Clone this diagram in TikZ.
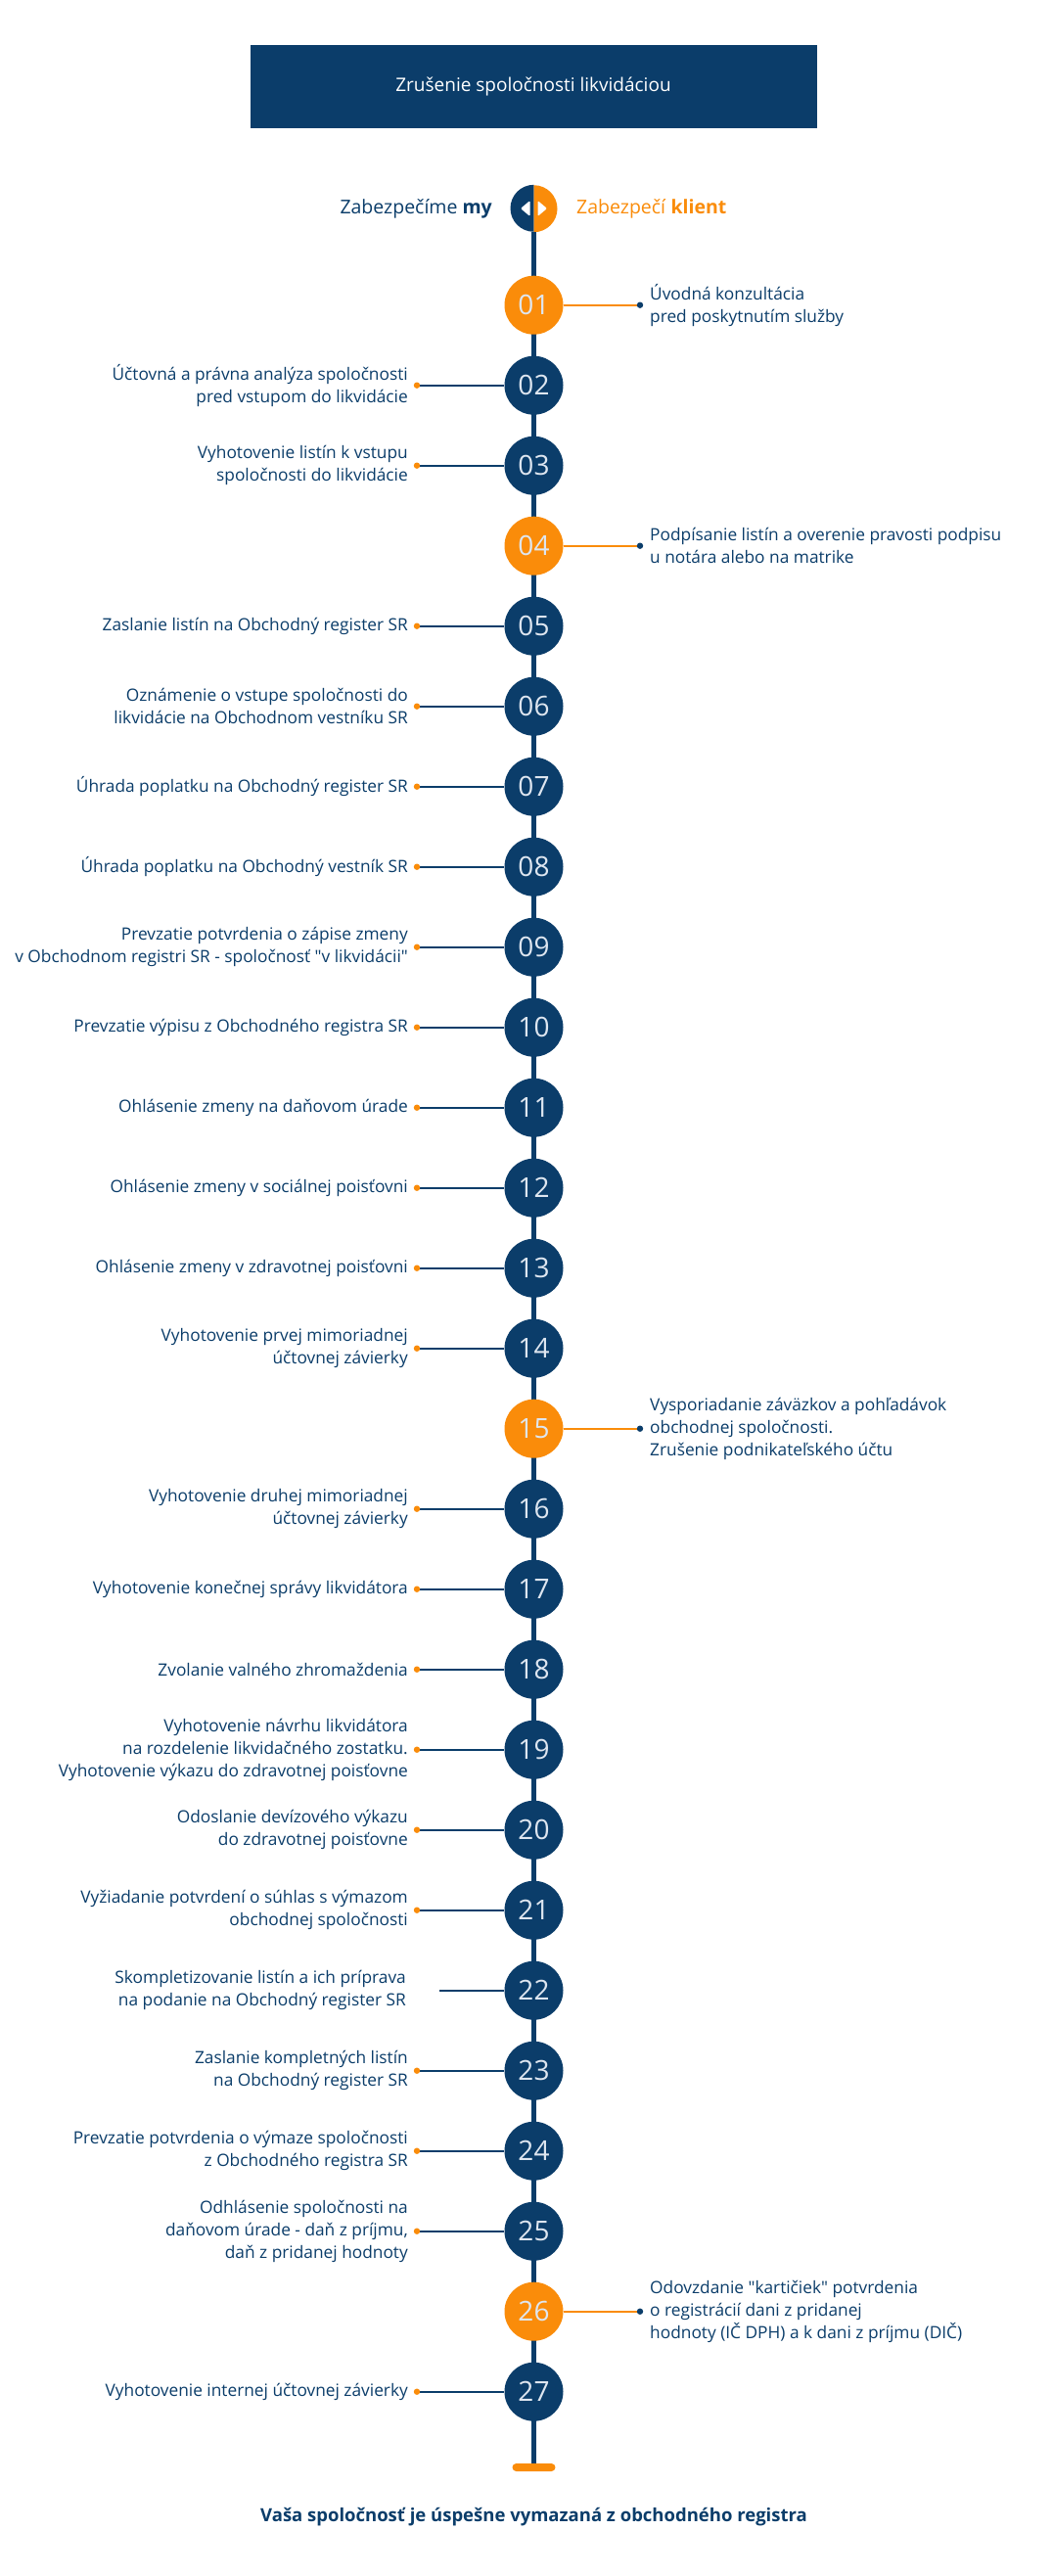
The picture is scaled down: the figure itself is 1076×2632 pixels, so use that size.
\documentclass[tikz,border=0pt]{standalone}
\usepackage{fontspec}
\setmainfont{Open Sans}
\definecolor{navy}{RGB}{11,61,106}
\definecolor{orng}{RGB}{250,140,10}
\definecolor{numtxt}{RGB}{222,230,240}
\newcommand\qq{\textquotedbl}
\tikzset{
  stepcirc/.style={circle, minimum size=60pt, inner sep=0pt, text=numtxt, font=\fontsize{28}{28}\selectfont},
  navyc/.style={stepcirc, fill=navy},
  orangec/.style={stepcirc, fill=orng},
  ltext/.style={anchor=east, align=right, text=navy, inner sep=0pt, font=\fontsize{17.3}{22.8}\selectfont},
  rtext/.style={anchor=west, align=left, text=navy, inner sep=0pt, font=\fontsize{17.3}{22.8}\selectfont},
  lconn/.style={draw=navy, line width=2pt},
  rconn/.style={draw=orng, line width=2pt},
}
\newcommand\lstep[3]{%
  \pgfmathsetmacro\yy{-(311.7+(#1-1)*82)}%
  \node[navyc] (c#1) at (545.5,\yy) {#2};
  \coordinate (d#1) at (426,\yy);
  \node[ltext] (t#1) at (417,\yy) {#3};
  \draw[lconn] (d#1) -- (c#1.west);
  \fill[orng] (d#1) circle (3.2);
}
\newcommand\rstep[3]{%
  \pgfmathsetmacro\yy{-(311.7+(#1-1)*82)}%
  \node[orangec] (c#1) at (545.5,\yy) {#2};
  \coordinate (d#1) at (654,\yy);
  \node[rtext] (t#1) at (664,\yy) {#3};
  \draw[rconn] (c#1.east) -- (d#1);
  \fill[navy] (d#1) circle (3.2);
}
\begin{document}
\begin{tikzpicture}[x=1pt,y=1pt]
\useasboundingbox[fill=white] (0,0) rectangle (1076,-2632);
% title
\node[fill=navy, minimum width=579pt, minimum height=85pt, inner sep=0pt, text=white,
  font=\fontsize{19}{19}\selectfont] (title) at (545,-88.5) {Zrušenie spoločnosti likvidáciou};
% legend icon
\node[circle, minimum size=48pt, inner sep=0pt] (icon) at (545.5,-213) {};
\fill[navy] (icon.north) arc[start angle=90, end angle=270, radius=24] -- cycle;
\fill[orng] (icon.south) arc[start angle=-90, end angle=90, radius=24] -- cycle;
\fill[white, rounded corners=1.2pt] (541.5,-205) -- (541.5,-221) -- (532,-213) -- cycle;
\fill[white, rounded corners=1.2pt] (549.5,-205) -- (549.5,-221) -- (559,-213) -- cycle;
\node[anchor=east, inner sep=0pt, text=navy, font=\fontsize{19.5}{19.5}\selectfont] (lgl) at (503,-213) {Zabezpečíme \textbf{my}};
\node[anchor=west, inner sep=0pt, text=orng, font=\fontsize{19.5}{19.5}\selectfont] (lgr) at (589,-213) {Zabezpečí \textbf{klient}};
% end bar and timeline
\node[fill=orng, rounded corners=4pt, minimum width=44pt, minimum height=8pt, inner sep=0pt] (bar) at (545.5,-2521) {};
\draw[navy, line width=5pt] (icon.south) -- (bar.north);
% steps
\rstep{1}{01}{Úvodná konzultácia\\pred poskytnutím služby}
\lstep{2}{02}{Účtovná a právna analýza spoločnosti\\pred vstupom do likvidácie}
\lstep{3}{03}{Vyhotovenie listín k vstupu\\spoločnosti do likvidácie}
\rstep{4}{04}{Podpísanie listín a overenie pravosti podpisu\\u notára alebo na matrike}
\lstep{5}{05}{Zaslanie listín na Obchodný register SR}
\lstep{6}{06}{Oznámenie o vstupe spoločnosti do\\likvidácie na Obchodnom vestníku SR}
\lstep{7}{07}{Úhrada poplatku na Obchodný register SR}
\lstep{8}{08}{Úhrada poplatku na Obchodný vestník SR}
\lstep{9}{09}{Prevzatie potvrdenia o zápise zmeny\\v Obchodnom registri SR - spoločnosť \qq v likvidácii\qq}
\lstep{10}{10}{Prevzatie výpisu z Obchodného registra SR}
\lstep{11}{11}{Ohlásenie zmeny na daňovom úrade}
\lstep{12}{12}{Ohlásenie zmeny v sociálnej poisťovni}
\lstep{13}{13}{Ohlásenie zmeny v zdravotnej poisťovni}
\lstep{14}{14}{Vyhotovenie prvej mimoriadnej\\účtovnej závierky}
\rstep{15}{15}{Vysporiadanie záväzkov a pohľadávok\\obchodnej spoločnosti.\\Zrušenie podnikateľského účtu}
\lstep{16}{16}{Vyhotovenie druhej mimoriadnej\\účtovnej závierky}
\lstep{17}{17}{Vyhotovenie konečnej správy likvidátora}
\lstep{18}{18}{Zvolanie valného zhromaždenia}
\lstep{19}{19}{Vyhotovenie návrhu likvidátora\hspace{4pt}\\na rozdelenie likvidačného zostatku.\\Vyhotovenie výkazu do zdravotnej poisťovne}
\lstep{20}{20}{Odoslanie devízového výkazu\\do zdravotnej poisťovne}
\lstep{21}{21}{Vyžiadanie potvrdení o súhlas s výmazom\\obchodnej spoločnosti}
% step 22: line without dot
\pgfmathsetmacro\yy{-(311.7+21*82)}
\node[navyc] (c22) at (545.5,\yy) {22};
\coordinate (d22) at (449,\yy);
\node[ltext] (t22) at (415,\yy) {Skompletizovanie listín a ich príprava\\na podanie na Obchodný register SR};
\draw[lconn] (d22) -- (c22.west);
\lstep{23}{23}{Zaslanie kompletných listín\\na Obchodný register SR}
\lstep{24}{24}{Prevzatie potvrdenia o výmaze spoločnosti\\z Obchodného registra SR}
\lstep{25}{25}{Odhlásenie spoločnosti na\\daňovom úrade - daň z príjmu,\\daň z pridanej hodnoty}
\rstep{26}{26}{Odovzdanie \qq kartičiek\qq{} potvrdenia\\o registrácií dani z pridanej\\hodnoty (IČ DPH) a k dani z príjmu (DIČ)}
\lstep{27}{27}{Vyhotovenie internej účtovnej závierky}
% closing text
\node[text=navy, inner sep=0pt, font=\fontsize{18.5}{18.5}\selectfont\bfseries] (final) at (545.5,-2572) {Vaša spoločnosť je úspešne vymazaná z obchodného registra};
\end{tikzpicture}
\end{document}
